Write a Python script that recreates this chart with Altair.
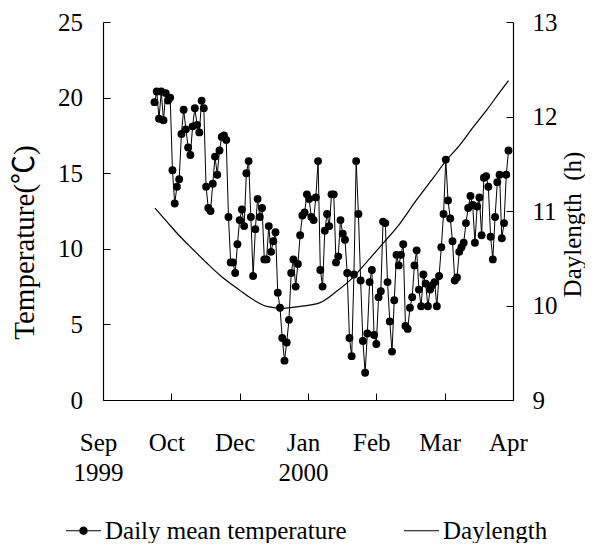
import altair as alt
import pandas as pd

# ---------------- data ----------------
month_labels = ["Sep", "Oct", "Dec", "Jan", "Feb", "Mar", "Apr"]
year_labels = ["1999", "", "", "2000", "", "", ""]
tick_days = [0, 30.5, 61, 91.5, 122, 152.5, 183]

first_day = 23
temperature = [
    19.7, 20.4, 18.6, 20.4, 18.5, 20.3, 19.8, 20.0, 15.2, 13.0,
    14.1, 14.6, 17.6, 19.2, 17.9, 16.7, 16.2, 18.1, 19.3, 18.2,
    17.7, 19.8, 19.3, 14.1, 12.7, 12.5, 14.3, 16.1, 14.9, 16.5,
    17.4, 17.5, 17.2, 12.1, 9.1, 9.1, 8.4, 10.3, 11.9, 12.6,
    11.5, 15.0, 15.8, 12.1, 8.2, 11.3, 13.3, 12.1, 12.7, 9.3,
    9.3, 11.5, 9.8, 10.5, 11.1, 7.1, 6.1, 4.1, 2.6, 3.8,
    5.3, 8.4, 9.3, 7.5, 9.0, 10.9, 12.2, 12.4, 13.6, 13.3,
    12.1, 11.9, 13.4, 15.8, 8.6, 7.5,
    11.2, 12.3, 11.5, 13.6, 13.6, 9.1, 9.5, 11.9, 11.0, 10.6,
    8.4, 4.1, 2.9, 8.3, 15.8, 12.3, 7.9, 3.9, 1.8, 4.4,
    7.8, 8.6, 4.3, 3.7, 6.8, 7.2, 11.8, 11.7, 7.8, 5.2,
    3.2, 6.6, 9.6, 8.9, 9.6, 10.3, 4.9, 4.7, 6.1, 6.8,
    8.9, 9.9, 7.3, 6.2, 8.3, 7.7, 6.2, 7.3, 7.6, 7.8,
    6.2, 8.2, 10.1, 12.3, 15.9, 13.2, 12.0, 10.5, 7.9, 8.1,
    9.8, 10.1, 10.4, 11.7, 12.7, 13.5, 12.9, 10.4, 12.8, 13.4,
    10.9, 14.7, 14.8, 14.1, 10.8, 9.3, 12.1, 14.4, 14.9, 10.7,
    11.7, 14.9, 16.5,
]

daylength_day = [23.2, 28.4, 34.4, 40.3, 46.3, 52.2, 61.1, 67.1, 73.1, 80.5,
                 87.9, 96.9, 104.3, 111.7, 117.7, 125.1, 132.6, 140.0, 147.4,
                 153.4, 159.3, 165.3, 171.3, 177.2, 181.0]
daylength_h = [11.03, 10.89, 10.73, 10.59, 10.45, 10.32, 10.16, 10.06, 9.99, 9.97,
               9.99, 10.03, 10.15, 10.30, 10.46, 10.66, 10.87, 11.12, 11.35,
               11.54, 11.70, 11.89, 12.07, 12.26, 12.38]

series_names = ["Daily mean temperature", "Daylength"]
temp_ticks = [0, 5, 10, 15, 20, 25]
dl_ticks = [9, 10, 11, 12, 13]

# ---------------- tables ----------------
temp_df = pd.DataFrame({
    "day": [first_day + i for i in range(len(temperature))],
    "temp": temperature,
})
dl_df = pd.DataFrame({"day": daylength_day, "hours": daylength_h})
legend_df = pd.DataFrame({"series": series_names})

FONT = "Liberation Serif, Noto Sans CJK SC"
FS = 25
NB = "\u00a0"

parts = []
for m, y in zip(month_labels, year_labels):
    if y:
        parts.append("['%s', '%s']" % (m, y))
    else:
        parts.append("'%s'" % m)
label_expr = "[" + ", ".join(parts) + "][round(datum.value / 30.5)]"

inward = alt.ExprRef(expr="-7")

x_enc = alt.X(
    "day:Q",
    scale=alt.Scale(domain=[0, 183], nice=False, zero=False),
    axis=alt.Axis(values=tick_days, labelExpr=label_expr, title=None,
                  tickSize=inward, labelPadding=37, labelLineHeight=30,
                  labelOffset=-5, labelFlush=False, labelOverlap=False),
)

temp_layer = alt.Chart(temp_df).mark_line(
    color="black", strokeWidth=1,
    point=alt.OverlayMarkDef(filled=True, size=62, color="black", opacity=1),
).encode(
    x=x_enc,
    y=alt.Y("temp:Q",
            scale=alt.Scale(domain=[0, 25], nice=False),
            axis=alt.Axis(orient="left", values=temp_ticks, title="Temperature(℃)",
                          tickSize=inward, labelPadding=27.5,
                          titleX=-79, titleY=220, titleBaseline="middle",
                          titleAngle=270, titleFontSize=29)),
)

dl_layer = alt.Chart(dl_df).mark_line(
    color="black", strokeWidth=1.2, interpolate="monotone"
).encode(
    x=alt.X("day:Q"),
    y=alt.Y("hours:Q",
            scale=alt.Scale(domain=[9, 13], nice=False, zero=False),
            axis=alt.Axis(orient="right", values=dl_ticks, title="Daylength" + NB + " (h)",
                          tickSize=inward, labelPadding=26,
                          titleX=59, titleY=202, titleBaseline="middle",
                          titleAngle=270)),
)

# legend glyphs: thin filled bar (line) with / without a dot
path_dot = ("M-2,-0.065H2V0.065H-2Z"
            "M0.48,0A0.48,0.48,0,1,1,-0.48,0A0.48,0.48,0,1,1,0.48,0Z")
path_line = "M-2,-0.065H2V0.065H-2Z"

legend_layer = alt.Chart(legend_df).mark_point(
    filled=True, opacity=0, size=306, color="black",
).encode(
    shape=alt.Shape(
        "series:N",
        scale=alt.Scale(domain=series_names, range=[path_dot, path_line]),
        legend=alt.Legend(
            title=None, orient="none", legendX=-32, legendY=496,
            direction="horizontal", columns=2, columnPadding=57,
            labelFont=FONT, labelFontSize=FS, labelColor="black", labelLimit=0,
            labelOffset=9, symbolSize=306, symbolOpacity=1,
            symbolFillColor="black", symbolStrokeColor="black",
            symbolStrokeWidth=0,
        ),
    )
)

chart = alt.layer(temp_layer, dl_layer, legend_layer).resolve_scale(
    y="independent"
).properties(
    width=410, height=378,
    autosize=alt.AutoSizeParams(type="none"),
    padding={"left": 95, "top": 14, "right": 72, "bottom": 143},
).configure_view(
    stroke=None
).configure_axis(
    grid=False,
    labelFont=FONT, titleFont=FONT,
    labelFontSize=FS, titleFontSize=FS, titleFontWeight="normal",
    labelColor="black", titleColor="black",
    domainColor="black", tickColor="black", domainWidth=1.2, tickWidth=1,
)

chart.save("out.html", embed_options={"renderer": "svg", "actions": False})
